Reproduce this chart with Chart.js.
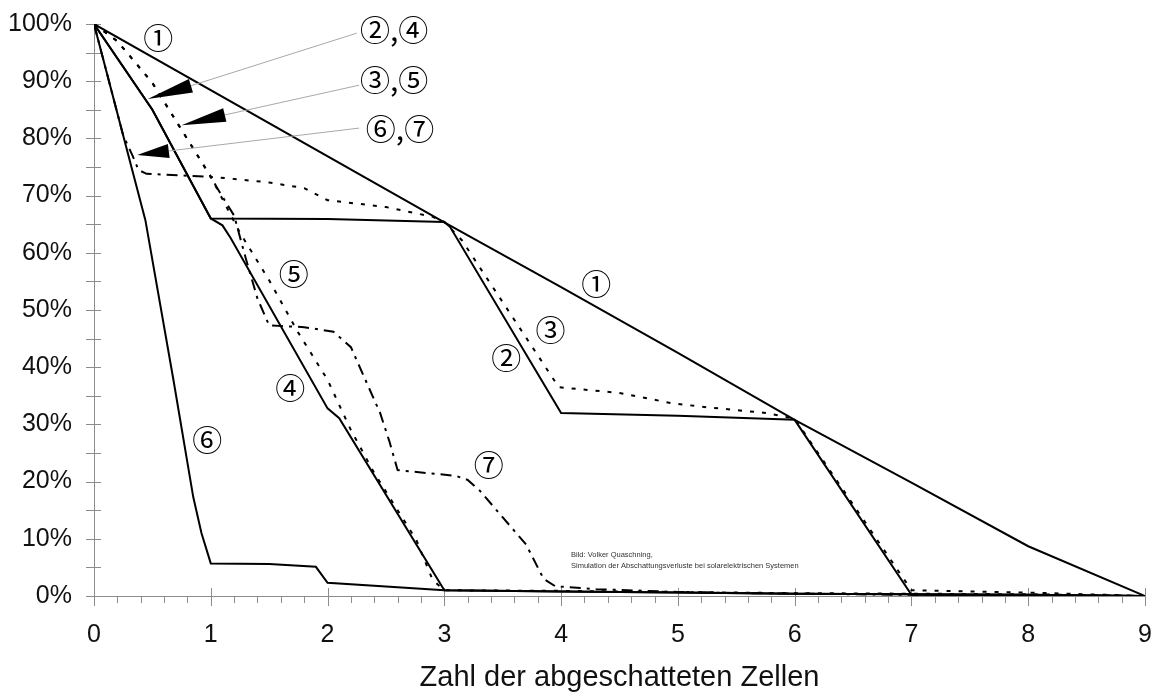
<!DOCTYPE html>
<html lang="de">
<head>
<meta charset="utf-8">
<script src="https://cdn.jsdelivr.net/npm/chart.js@4.4.1/dist/chart.umd.min.js"></script>
<style>
  html, body { margin: 0; padding: 0; background: #fff; }
  #grafik { display: block; }
</style>
</head>
<body>
<canvas id="grafik" width="1152" height="693"></canvas>
<script>
// Kurven: x = Zahl der abgeschatteten Zellen, y = relative Leistung in %
const kurve1X = [0, 3, 4, 5, 6, 7, 8, 9];
const kurve1Y = [100, 65.3, 54, 42.5, 30.8, 19.8, 8.7, 0];

const kurve2X = [0, 0.5, 1, 2, 3, 3.05, 4, 5, 6, 7, 8, 9];
const kurve2Y = [100, 85, 66, 65.9, 65.4, 64.5, 32, 31.5, 30.8, 0.2, 0.1, 0];

const kurve3X = [0, 0.2, 0.5, 0.75, 1, 1.5, 1.8, 2, 2.5, 2.9, 3, 3.15, 3.98, 4.5, 4.95, 5.2, 5.75, 6, 7, 8, 9];
const kurve3Y = [100, 97, 89.7, 81.5, 73.3, 72.3, 71.3, 69.2, 68, 66.3, 65.4, 62.2, 36.5, 35.5, 33.7, 33.1, 32, 31, 1, 0.6, 0];

const kurve4X = [0, 0.5, 1, 1.1, 1.17, 2, 2.1, 3, 4, 5, 6, 7, 8, 9];
const kurve4Y = [100, 85, 66, 64.8, 62.6, 32.8, 31.1, 1, 0.8, 0.6, 0.4, 0.3, 0.2, 0];

const kurve5X = [0, 0.2, 0.5, 0.75, 1, 1.25, 1.5, 1.75, 2, 2.2, 2.4, 2.76, 2.9, 3, 4, 5, 6, 7, 8, 9];
const kurve5Y = [100, 97, 89.7, 81.5, 73.3, 63.5, 55.2, 46, 37.8, 29, 21.5, 9.8, 2.8, 1, 0.9, 0.7, 0.5, 0.4, 0.3, 0];

const kurve6X = [0, 0.44, 0.68, 0.85, 0.92, 1, 1.5, 1.9, 2, 3, 4, 5, 6, 7, 8, 9];
const kurve6Y = [100, 65.7, 37.8, 17.3, 11, 5.7, 5.6, 5.1, 2.3, 1, 0.8, 0.6, 0.4, 0.3, 0.2, 0];

const kurve7X = [0, 0.25, 0.33, 0.38, 0.45, 1, 1.05, 1.1, 1.2, 1.3, 1.4, 1.5, 1.8, 2.05, 2.2, 2.45, 2.53, 2.6, 3.1, 3.2, 3.3, 3.7, 3.85, 3.95, 4.3, 5, 5.6, 7, 9];
const kurve7Y = [100, 80.5, 77, 74.5, 73.8, 73.3, 71.5, 69.8, 66.5, 59, 52, 47.3, 47, 46.2, 43.5, 32, 27, 22, 21, 20.3, 18.5, 9, 3, 1.7, 1.2, 0.7, 0.5, 0.2, 0];

// Kurvennummern im Diagramm (Datenkoordinaten)
const nummerText = ['①', '①', '②', '③', '④', '⑤', '⑥', '⑦'];
const nummerX = [0.55, 4.3, 3.53, 3.91, 1.68, 1.71, 0.97, 3.38];
const nummerY = [97.7, 54.7, 41.6, 46.5, 36.4, 56.3, 27.3, 22.9];

// Hinweise mit Pfeil
const pfeilText = ['②,④', '③,⑤', '⑥,⑦'];
const pfeilTextX = [2.57, 2.57, 2.62];
const pfeilTextY = [99, 90.2, 81.8];
const pfeilSpitzeX = [0.46, 0.75, 0.37];
const pfeilSpitzeY = [86.9, 82.3, 77.1];
const pfeilFussX = [0.83, 1.12, 0.64];
const pfeilFussY = [89.2, 84.1, 77.8];
const pfeilEndeX = [2.25, 2.27, 2.27];
const pfeilEndeY = [98.4, 89.3, 81.8];

const quelleText = ['Bild: Volker Quaschning,', 'Simulation der Abschattungsverluste bei solarelektrischen Systemen'];
const quelleX = 4.085;
const quelleY = [7.2, 5.3];

function punkte(xs, ys) {
    return xs.map((x, i) => ({ x: x, y: ys[i] }));
}

function kurve(xs, ys, strich) {
    return {
        data: punkte(xs, ys),
        borderColor: '#000',
        borderWidth: 2,
        borderDash: strich,
        pointRadius: 0,
        tension: 0,
        fill: false
    };
}

// Striche an den Achsen (Haupt- und Nebenteilung)
const achsenStriche = {
    id: 'achsenStriche',
    beforeDatasetsDraw(chart) {
        const ctx = chart.ctx;
        const xs = chart.scales.x, ys = chart.scales.y;
        ctx.save();
        ctx.strokeStyle = '#8c8c8c';
        ctx.lineWidth = 1;
        ctx.beginPath();
        ys.ticks.forEach(t => {
            const py = Math.round(ys.getPixelForValue(t.value)) + 0.5;
            ctx.moveTo(xs.left - 8, py);
            ctx.lineTo(xs.left + 7, py);
        });
        xs.ticks.forEach(t => {
            const px = Math.round(xs.getPixelForValue(t.value)) + 0.5;
            const ganz = Math.abs(t.value - Math.round(t.value)) < 1e-6;
            ctx.moveTo(px, ys.bottom - (ganz ? 8 : 0));
            ctx.lineTo(px, ys.bottom + (ganz ? 10 : 7));
        });
        ctx.stroke();
        ctx.restore();
    }
};

// Kurvennummern, Pfeile und Quellenangabe
const beschriftung = {
    id: 'beschriftung',
    afterDatasetsDraw(chart) {
        const ctx = chart.ctx;
        const xs = chart.scales.x, ys = chart.scales.y;
        const px = v => xs.getPixelForValue(v);
        const py = v => ys.getPixelForValue(v);
        const kreisFont = '30px "Noto Sans CJK JP", "DejaVu Sans", sans-serif';
        ctx.save();

        for (let i = 0; i < pfeilText.length; i++) {
            const sx = px(pfeilSpitzeX[i]), sy = py(pfeilSpitzeY[i]);
            const bx = px(pfeilFussX[i]), by = py(pfeilFussY[i]);
            const ex = px(pfeilEndeX[i]), ey = py(pfeilEndeY[i]);
            ctx.strokeStyle = '#a8a8a8';
            ctx.lineWidth = 1;
            ctx.beginPath();
            ctx.moveTo(bx, by);
            ctx.lineTo(ex, ey);
            ctx.stroke();

            const dx = bx - sx, dy = by - sy, len = Math.hypot(dx, dy);
            const nx = -dy / len * 7, ny = dx / len * 7;
            ctx.fillStyle = '#000';
            ctx.beginPath();
            ctx.moveTo(sx, sy);
            ctx.lineTo(bx + nx, by + ny);
            ctx.lineTo(bx - nx, by - ny);
            ctx.closePath();
            ctx.fill();

            ctx.font = kreisFont;
            ctx.textAlign = 'center';
            ctx.textBaseline = 'middle';
            ctx.fillText(pfeilText[i], px(pfeilTextX[i]), py(pfeilTextY[i]));
        }

        ctx.font = kreisFont;
        ctx.fillStyle = '#000';
        ctx.textAlign = 'center';
        ctx.textBaseline = 'middle';
        nummerText.forEach((t, i) => {
            ctx.fillText(t, px(nummerX[i]), py(nummerY[i]));
        });

        ctx.font = '7.5px "Liberation Sans", Arial, sans-serif';
        ctx.fillStyle = '#333';
        ctx.textAlign = 'left';
        quelleText.forEach((t, i) => {
            ctx.fillText(t, px(quelleX), py(quelleY[i]));
        });
        ctx.restore();
    }
};

const ctx = document.getElementById('grafik').getContext('2d');

new Chart(ctx, {
    type: 'line',
    data: {
        datasets: [
            kurve(kurve1X, kurve1Y, []),
            kurve(kurve2X, kurve2Y, []),
            kurve(kurve3X, kurve3Y, [4, 8]),
            kurve(kurve4X, kurve4Y, []),
            kurve(kurve5X, kurve5Y, [4, 8]),
            kurve(kurve6X, kurve6Y, []),
            kurve(kurve7X, kurve7Y, [11, 6, 3, 6])
        ]
    },
    options: {
        responsive: false,
        animation: false,
        devicePixelRatio: 1,
        layout: { padding: { top: 24, right: 7, bottom: 0, left: 0 } },
        plugins: {
            legend: { display: false },
            tooltip: { enabled: false }
        },
        scales: {
            x: {
                type: 'linear',
                min: 0,
                max: 9,
                grid: { display: false, drawTicks: false },
                border: { display: true, color: '#8c8c8c', width: 1 },
                ticks: {
                    stepSize: 0.2,
                    autoSkip: false,
                    maxRotation: 0,
                    padding: 24,
                    color: '#111',
                    font: { family: '"Liberation Sans", Arial, sans-serif', size: 25 },
                    callback: function(value) {
                        return Math.abs(value - Math.round(value)) < 1e-6 ? String(Math.round(value)) : '';
                    }
                },
                title: {
                    display: true,
                    text: 'Zahl der abgeschatteten Zellen',
                    color: '#111',
                    padding: { top: 0, bottom: 1 },
                    font: { family: '"Liberation Sans", Arial, sans-serif', size: 29, lineHeight: 1 }
                },
                afterFit: function(scale) {
                    scale.height = 97;
                    scale.paddingRight = 0;
                    scale.paddingLeft = 0;
                }
            },
            y: {
                type: 'linear',
                min: 0,
                max: 100,
                grid: { display: false, drawTicks: false },
                border: { display: true, color: '#8c8c8c', width: 1 },
                ticks: {
                    stepSize: 5,
                    autoSkip: false,
                    padding: 22,
                    color: '#111',
                    font: { family: '"Liberation Sans", Arial, sans-serif', size: 25 },
                    callback: function(value) {
                        return value % 10 === 0 ? value + '%' : '';
                    }
                },
                afterFit: function(scale) {
                    scale.width = 94;
                    scale.paddingTop = 0;
                    scale.paddingBottom = 0;
                }
            }
        }
    },
    plugins: [achsenStriche, beschriftung]
});
</script>
</body>
</html>
